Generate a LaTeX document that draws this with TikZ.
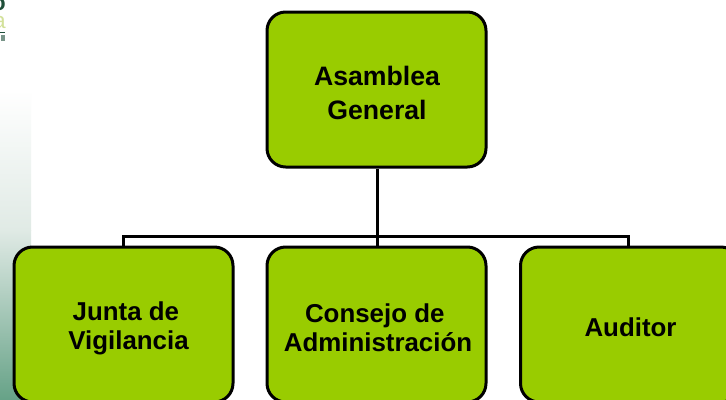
\documentclass[tikz,border=0pt]{standalone}
\usepackage{fontspec}
\setmainfont{Liberation Sans}
\definecolor{boxgreen}{HTML}{99CC00}
\definecolor{stripmid}{HTML}{E0EAE5}
\definecolor{stripdark}{HTML}{66A287}
\definecolor{logodark}{HTML}{1F4F3A}
\definecolor{logolight}{HTML}{D3E19A}
\tikzset{
  orgbox/.style={draw=black,fill=boxgreen,line width=2.25pt,rounded corners=14pt,
    minimum width=164.25pt,minimum height=116.25pt,inner sep=0pt},
  toplabel/.style={inner sep=0pt,align=center,font=\fontsize{20}{25.5}\selectfont\bfseries,text=black},
  lowlabel/.style={inner sep=0pt,align=center,font=\fontsize{19.4}{21.75}\selectfont\bfseries,text=black},
  link/.style={draw=black,line width=2.25pt}
}
\begin{document}
\begin{tikzpicture}[x=0.75pt,y=-0.75pt]
\useasboundingbox (0,0) rectangle (726,400);
\clip (0,0) rectangle (726,400);
\fill[white] (0,0) rectangle (726,400);
\shade[top color=white,bottom color=stripmid] (0,90) rectangle (31,230);
\shade[top color=stripmid,bottom color=stripdark] (0,230) rectangle (31,400);
\node[text=logodark,font=\fontsize{17}{17}\selectfont\bfseries,anchor=base east,inner sep=0pt] (logoa) at (6,10) {o};
\node[text=logolight,font=\fontsize{17}{17}\selectfont,anchor=base east,inner sep=0pt] (logob) at (6,28) {a};
\fill[logodark] (0,31.5) rectangle (5,32.5);
\fill[logodark!60] (1,35) rectangle (5,41);
\coordinate (bus) at (377,236.5);
\coordinate (rdrop) at (628,247);
\node[orgbox] (top) at (376.5,89.5) {};
\node[orgbox] (left) at (123.5,324.5) {};
\node[orgbox] (mid) at (376.5,324.5) {};
\node[orgbox] (right) at (630,324.5) {};
\node[toplabel] (toptext) at (377,93) {Asamblea\\General};
\node[lowlabel] (lefttext) at (128.5,328) {Junta de\kern.2em\\Vigilancia};
\node[lowlabel] (midtext) at (378,328) {Consejo de\kern.25em\\Administración};
\node[lowlabel] (righttext) at (630.5,327) {Auditor};
\draw[link] (top.south -| bus) -- (bus);
\draw[link] (left.north) |- (bus) -- (bus |- mid.north);
\draw[link] (bus) -| (rdrop);
\end{tikzpicture}
\end{document}
